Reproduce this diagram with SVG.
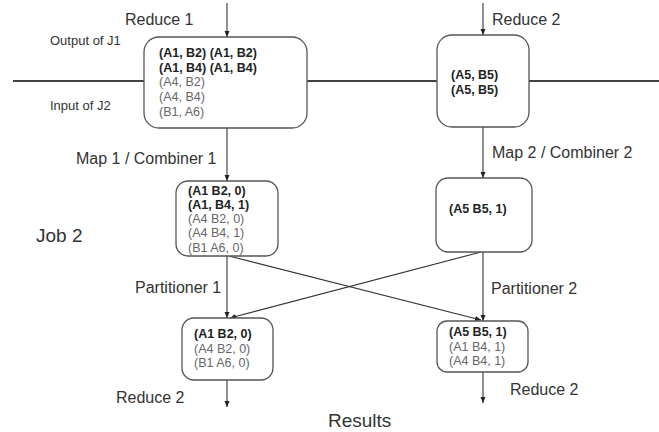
<svg xmlns="http://www.w3.org/2000/svg" width="659" height="432" viewBox="0 0 659 432">
<defs>
<marker id="ah" viewBox="0 0 6 6" refX="6" refY="3" markerWidth="6" markerHeight="6" markerUnits="userSpaceOnUse" orient="auto">
<path d="M0,0.5 L6,3 L0,5.5 z" fill="#222"/>
</marker>
<style>
.box{fill:#fff;stroke:#555;stroke-width:1.3}
.conn{stroke:#333;stroke-width:1.1;fill:none}
.arr{marker-end:url(#ah)}
.sep{stroke:#444;stroke-width:2;fill:none}
text{font-family:"Liberation Sans",Arial,sans-serif;fill:#333}
.lbl{font-size:16px}
.small{font-size:13px}
.big{font-size:19px}
.b{font-size:12.5px;font-weight:bold;fill:#222}
.n{font-size:12.5px;fill:#666}
</style>
</defs>
<g id="connectors">
<line class="sep" x1="13" y1="81" x2="144" y2="81"/>
<line class="sep" x1="307" y1="81" x2="437" y2="81"/>
<line class="sep" x1="529" y1="81" x2="659" y2="81"/>
<line class="conn arr" x1="227" y1="3" x2="227" y2="37"/>
<line class="conn arr" x1="483" y1="3" x2="483" y2="35"/>
<line class="conn arr" x1="227" y1="128" x2="227" y2="181"/>
<line class="conn arr" x1="483" y1="127" x2="483" y2="178"/>
<line class="conn arr" x1="227" y1="256" x2="227" y2="318"/>
<line class="conn arr" x1="483" y1="252" x2="483" y2="321"/>
<line class="conn arr" x1="229" y1="256" x2="481" y2="320"/>
<line class="conn arr" x1="481" y1="252" x2="230" y2="318"/>
<line class="conn arr" x1="227" y1="380" x2="227" y2="407"/>
<line class="conn arr" x1="483" y1="372" x2="483" y2="403"/>
</g>
<g id="labels">
<text class="lbl" x="125" y="25">Reduce 1</text>
<text class="lbl" x="492" y="25">Reduce 2</text>
<text class="small" x="50" y="45">Output of J1</text>
<text class="small" x="50" y="110">Input of J2</text>
<text class="lbl" x="76" y="164">Map 1 / Combiner 1</text>
<text class="lbl" x="492" y="158">Map 2 / Combiner 2</text>
<text class="big" x="36" y="242">Job 2</text>
<text class="lbl" x="135" y="293">Partitioner 1</text>
<text class="lbl" x="491" y="294">Partitioner 2</text>
<text class="lbl" x="116" y="403">Reduce 2</text>
<text class="lbl" x="510" y="395">Reduce 2</text>
<text class="big" x="328" y="427">Results</text>
</g>
<g id="j1out1">
<rect class="box" x="144" y="37" width="163" height="91" rx="15"/>
<text class="b" x="159" y="57">(A1, B2) (A1, B2)</text>
<text class="b" x="159" y="72">(A1, B4) (A1, B4)</text>
<text class="n" x="159" y="86">(A4, B2)</text>
<text class="n" x="159" y="101">(A4, B4)</text>
<text class="n" x="159" y="116">(B1, A6)</text>
</g>
<g id="j1out2">
<rect class="box" x="437" y="35" width="92" height="92" rx="15"/>
<text class="b" x="451" y="79">(A5, B5)</text>
<text class="b" x="451" y="94">(A5, B5)</text>
</g>
<g id="map1">
<rect class="box" x="176" y="181" width="102" height="75" rx="12"/>
<text class="b" x="188" y="195">(A1 B2, 0)</text>
<text class="b" x="188" y="209">(A1, B4, 1)</text>
<text class="n" x="188" y="223">(A4 B2, 0)</text>
<text class="n" x="188" y="237">(A4 B4, 1)</text>
<text class="n" x="188" y="252">(B1 A6, 0)</text>
</g>
<g id="map2">
<rect class="box" x="436" y="178" width="96" height="74" rx="12"/>
<text class="b" x="449" y="213">(A5 B5, 1)</text>
</g>
<g id="red1">
<rect class="box" x="182" y="318" width="91" height="62" rx="12"/>
<text class="b" x="194" y="338">(A1 B2, 0)</text>
<text class="n" x="194" y="353">(A4 B2, 0)</text>
<text class="n" x="194" y="367">(B1 A6, 0)</text>
</g>
<g id="red2">
<rect class="box" x="437" y="321" width="91" height="51" rx="10"/>
<text class="b" x="449" y="336">(A5 B5, 1)</text>
<text class="n" x="449" y="351">(A1 B4, 1)</text>
<text class="n" x="449" y="365">(A4 B4, 1)</text>
</g>
</svg>
